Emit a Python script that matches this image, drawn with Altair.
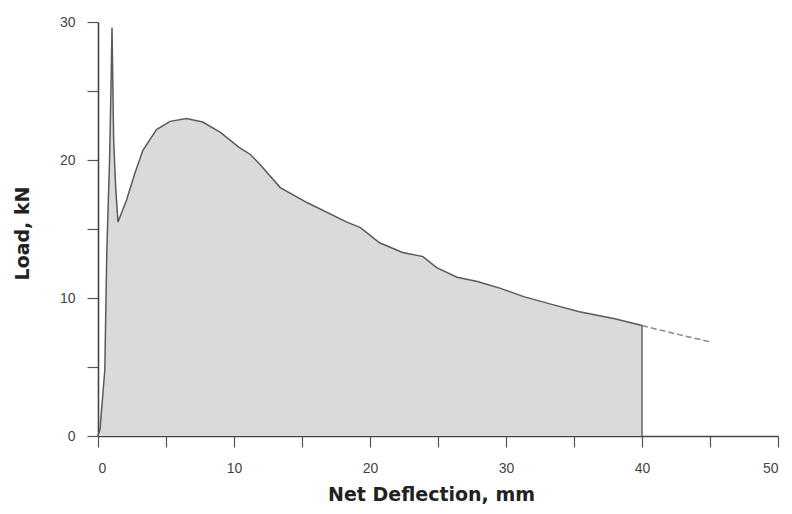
import altair as alt
import pandas as pd

# Load vs net deflection
deflection = [0.0, 0.15, 0.5, 0.65, 0.85, 0.95, 1.03, 1.1, 1.15, 1.3, 1.47, 2.1, 2.7,
              3.3, 4.3, 5.3, 6.5, 7.7, 9.0, 10.4, 11.2, 11.9, 13.4, 15.4, 18.3,
              19.3, 20.7, 22.4, 23.9, 24.9, 26.4, 27.9, 29.6, 31.3, 33.5, 35.4,
              38.0, 40.0, 42.5, 45.1]
load = [0.0, 0.5, 4.8, 13.5, 20.0, 25.0, 29.6, 25.0, 21.5, 18.0, 15.5, 17.1, 19.0,
        20.7, 22.2, 22.8, 23.0, 22.75, 22.0, 20.9, 20.4, 19.7, 18.0, 16.9, 15.5,
        15.1, 14.0, 13.3, 13.0, 12.2, 11.5, 11.2, 10.7, 10.1, 9.5, 9.0,
        8.5, 8.0, 7.4, 6.8]
cutoff_deflection = [40.0]
cutoff_load = [8.0]

x_ticks = [0, 5, 10, 15, 20, 25, 30, 35, 40, 45, 50]
y_ticks = [0, 5, 10, 15, 20, 25, 30]

df = pd.DataFrame({"Net Deflection, mm": deflection, "Load, kN": load})
df_in = df[df["Net Deflection, mm"] <= 40]
df_out = df[df["Net Deflection, mm"] >= 40]
df_cut = pd.DataFrame({"d": cutoff_deflection, "l": cutoff_load, "z": [0.0]})

xs = alt.Scale(domain=[0, 50], nice=False)
ys = alt.Scale(domain=[0, 30], nice=False)

x_axis = alt.Axis(values=x_ticks, labelExpr="datum.value % 10 == 0 ? datum.label : ''",
                  title="Net Deflection, mm", titleX=333, titleY=58,
                  titleBaseline="middle", titleAlign="center")
y_axis = alt.Axis(values=y_ticks, labelExpr="datum.value % 10 == 0 ? datum.label : ''",
                  title="Load, kN", titleX=-76, titleY=211,
                  titleBaseline="middle", titleAlign="center", titleAngle=-90)

x_enc = alt.X("Net Deflection, mm:Q", scale=xs, axis=x_axis)
y_enc = alt.Y("Load, kN:Q", scale=ys, axis=y_axis)

area = alt.Chart(df_in).mark_area(color="#dadada", opacity=1).encode(
    x=x_enc, y=y_enc, y2=alt.datum(0)
)
line_in = alt.Chart(df_in).mark_line(color="#5a5a5a", strokeWidth=1.5).encode(
    x="Net Deflection, mm:Q", y="Load, kN:Q"
)
line_out = alt.Chart(df_out).mark_line(color="#888888", strokeWidth=1.5,
                                       strokeDash=[6, 3]).encode(
    x="Net Deflection, mm:Q", y="Load, kN:Q"
)
cut = alt.Chart(df_cut).mark_rule(color="#666666", strokeWidth=1.5).encode(
    x="d:Q", y="z:Q", y2="l:Q"
)

chart = alt.layer(area, line_in, line_out, cut).properties(
    width=680, height=414,
    autosize=alt.AutoSizeParams(type="none"),
    padding={"left": 90, "top": 14, "right": 6, "bottom": 70},
).configure_view(stroke=None).configure_axis(
    grid=False,
    domainColor="#444444", domainWidth=1.6,
    tickColor="#555555", tickWidth=1.2, tickSize=11,
    labelColor="#444444", labelFont="Liberation Sans", labelFontSize=14,
    titleFont="DejaVu Sans", titleFontWeight="bold", titleFontSize=19,
    titleColor="#222222",
).configure_axisX(labelPadding=14).configure_axisY(labelPadding=12)

chart.save("out.html", embed_options={"renderer": "svg", "actions": False})
